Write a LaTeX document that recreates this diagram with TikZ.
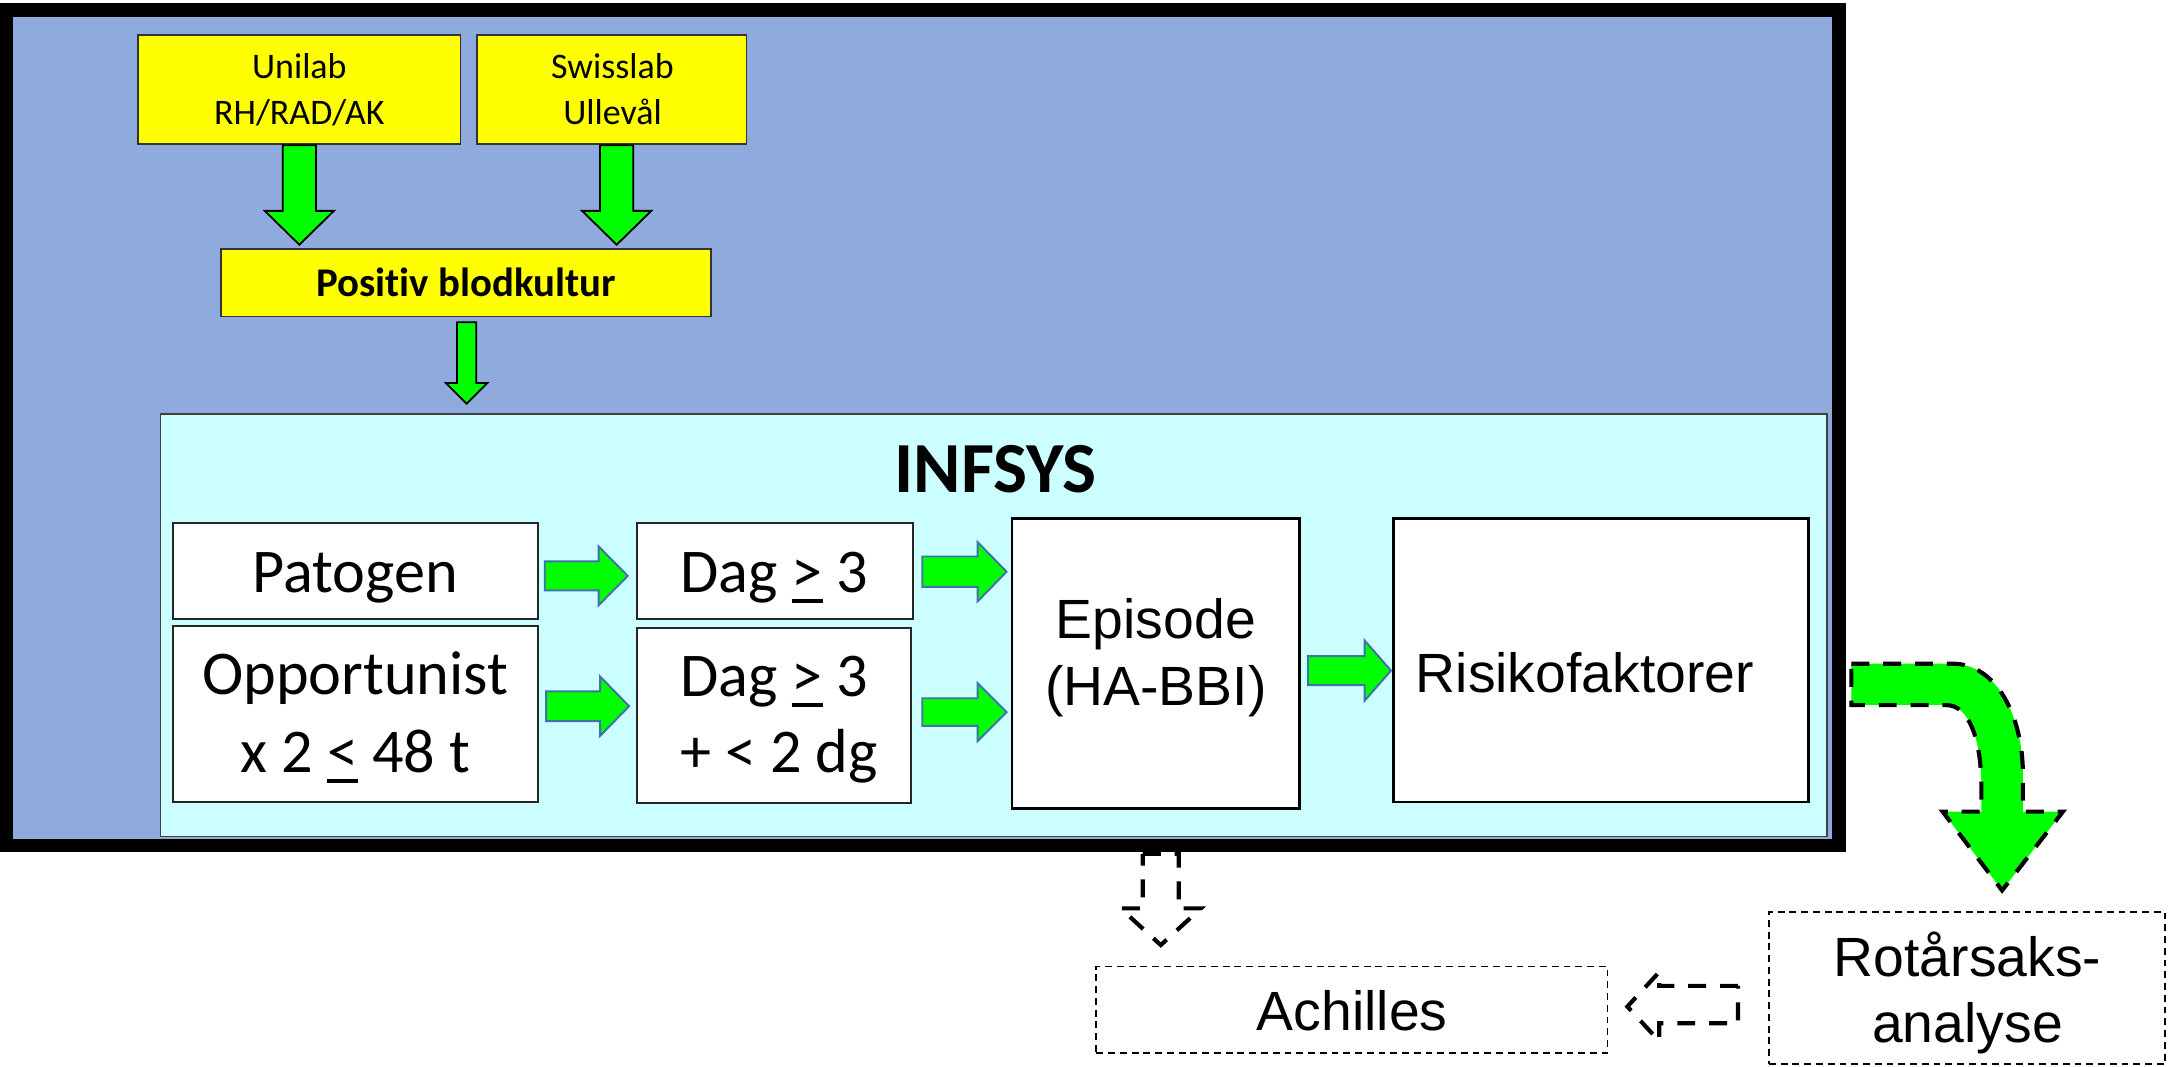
\documentclass[tikz,border=0pt]{standalone}
\usepackage{fontspec}
\setmainfont{Carlito}[Ligatures=NoCommon]
\newfontfamily\arialf{Liberation Sans}
\definecolor{bgblue}{RGB}{143,170,220}
\definecolor{lcyan}{RGB}{204,255,255}
\definecolor{gfill}{RGB}{0,255,0}
\definecolor{arrowedge}{RGB}{65,113,170}
\definecolor{ybox}{RGB}{255,255,0}
\newsavebox\ulbox
\newcommand\ulsym[1]{\sbox\ulbox{#1}\rlap{\rule[-0.17em]{\wd\ulbox}{0.065em}}\usebox\ulbox}
\begin{document}
\begin{tikzpicture}[x=1pt,y=-1pt,
  ybox/.style={draw=black!80,line width=1.2,fill=ybox,inner sep=0,outer sep=0},
  wbox/.style={draw=black!85,line width=1.5,fill=white,inner sep=0,outer sep=0},
  dbox/.style={draw=black,line width=1.4,dash pattern=on 5 off 3.5,inner sep=0,outer sep=0},
  txt/.style={inner sep=0,outer sep=0,anchor=base},
  smalltxt/.style={txt,font=\fontsize{26}{32}\selectfont},
  midtxt/.style={txt,font=\fontsize{45}{56}\selectfont},
  artxt/.style={txt,font=\arialf\fontsize{40}{48}\selectfont},
  gdown/.style={fill=gfill,draw=black,line width=1.3,line join=miter},
  gright/.style={fill=gfill,draw=arrowedge,line width=1.4,line join=miter},
  dasharrow/.style={draw=black,line width=3,dash pattern=on 13 off 10},
]
\useasboundingbox (0,0) rectangle (1568,771);
\fill[white] (0,0) rectangle (1568,771);
% outer frame
\fill[bgblue] (4.6,7.5) rectangle (1330,611.5);
% dashed down arrow below the frame
\draw[dasharrow,fill=white] (826.5,617.5) -- (852.5,617.5) -- (852.5,657) -- (868.5,657) -- (839.5,683.5) -- (810.5,657) -- (826.5,657) -- cycle;
\draw[line width=10] (4.6,7.5) rectangle (1330,611.5);

% yellow boxes
\node[ybox,minimum width=233,minimum height=78.7] (unilab) at (216.5,64.6) {};
\node[ybox,minimum width=195,minimum height=78.7] (swiss) at (442.5,64.6) {};
\node[ybox,minimum width=354,minimum height=49] (pos) at (337,204.5) {};
\node[smalltxt] (t1) at (216.5,57) {Unilab};
\node[smalltxt] (t2) at (216.5,89.7) {RH/RAD/AK};
\node[smalltxt] (t3) at (443,57) {Swisslab};
\node[smalltxt] (t4) at (443,89.7) {Ullevål};
\node[txt,font=\fontsize{29.5}{35}\selectfont\bfseries] (t5) at (337,214.7) {Posit\kern0pt iv blodkultur};

% green down arrows
\draw[gdown] (204.5,105) -- (228.5,105) -- (228.5,152.5) -- (241.5,152.5) -- (216.5,177) -- (191.5,152.5) -- (204.5,152.5) -- cycle;
\draw[gdown] (434,105) -- (458,105) -- (458,152.5) -- (471,152.5) -- (446,177) -- (421,152.5) -- (434,152.5) -- cycle;
\draw[gdown] (330.5,233) -- (344.5,233) -- (344.5,277) -- (352.5,277) -- (337.5,292) -- (322.5,277) -- (330.5,277) -- cycle;

% INFSYS box
\node[draw=black!75,line width=1,fill=lcyan,minimum width=1205.4,minimum height=305.6,inner sep=0,outer sep=0] (infsys) at (718.7,452.2) {};
\node[txt,font=\fontsize{52}{60}\selectfont\bfseries] (t6) at (720,356.5) {INFSYS};

\node[wbox,minimum width=264,minimum height=70] (patogen) at (257,413) {};
\node[wbox,minimum width=264,minimum height=127] (opp) at (257,516.5) {};
\node[wbox,minimum width=199,minimum height=70] (dag1) at (560.5,413) {};
\node[wbox,minimum width=198,minimum height=127] (dag2) at (560,517.5) {};
\node[wbox,draw=black,line width=2,minimum width=208,minimum height=210] (episode) at (836,480) {};
\node[wbox,draw=black,line width=2,minimum width=300,minimum height=205] (risk) at (1158,477.5) {};

\node[midtxt] (t7) at (257,428.6) {Patogen};
\node[midtxt] (t8) at (257,502.6) {Opportunist};
\node[midtxt] (t9) at (257,559) {x 2 \ulsym{<} 48 t};
\node[midtxt] (t10) at (560,428.6) {Dag \ulsym{>} 3};
\node[midtxt] (t11) at (560,504) {Dag \ulsym{>} 3};
\node[midtxt,anchor=base west] (t12) at (492,559) {+ < 2 dg};
\node[artxt] (t13) at (836,462) {Episode};
\node[artxt] (t14) at (836,510) {(HA-BBI)};
\node[artxt,anchor=base west] (t15) at (1024,501) {Risikofaktorer};

% green right arrows
\draw[gright] (394,406) -- (433,406) -- (433,395.25) -- (454,416.5) -- (433,437.75) -- (433,427) -- (394,427) -- cycle;
\draw[gright] (395,500) -- (434,500) -- (434,489.25) -- (455,510.75) -- (434,532.25) -- (434,521.5) -- (395,521.5) -- cycle;
\draw[gright] (667,402.5) -- (707,402.5) -- (707,392) -- (728,413.5) -- (707,435) -- (707,424.5) -- (667,424.5) -- cycle;
\draw[gright] (667,505) -- (707,505) -- (707,494) -- (728,515) -- (707,536) -- (707,525) -- (667,525) -- cycle;
\draw[gright] (946,474.5) -- (987,474.5) -- (987,463.25) -- (1006,485) -- (987,506.75) -- (987,495.5) -- (946,495.5) -- cycle;

% curved dashed arrow
\draw[dasharrow,fill=gfill] (1339,480) -- (1412,480) .. controls (1445,480) and (1463,520) .. (1463,559) -- (1463,587) -- (1492,587) -- (1448,644) -- (1405,587) -- (1433,587) -- (1433,569) .. controls (1433,535) and (1424,510) .. (1408,510) -- (1339,510) -- cycle;

% bottom boxes
\node[dbox,minimum width=369.6,minimum height=62.6] (achilles) at (977.8,730.3) {};
\node[dbox,minimum width=286.4,minimum height=110] (rot) at (1422.6,714.6) {};
\node[artxt] (t16) at (978,745) {Achilles};
\node[artxt] (t17) at (1423,706.4) {Rotårsaks-};
\node[artxt] (t18) at (1423,754.3) {analyse};

% dashed left arrow
\draw[dasharrow] (1257,713) -- (1200,713) -- (1200,703) -- (1177,728) -- (1200,753) -- (1200,740) -- (1257,740) -- cycle;
\end{tikzpicture}
\end{document}
